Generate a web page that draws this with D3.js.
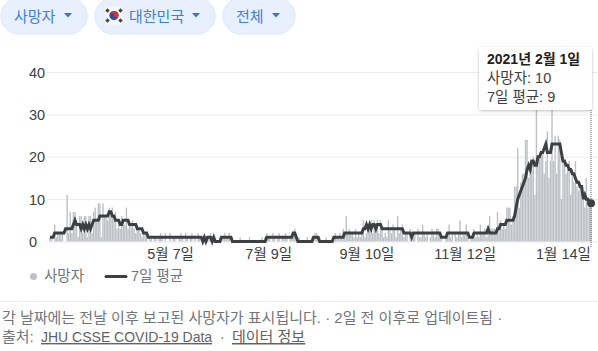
<!DOCTYPE html>
<html lang="ko">
<head>
<meta charset="utf-8">
<script src="https://cdn.jsdelivr.net/npm/d3@7"></script>
<style>
    body { margin: 0; background: #fff; overflow: hidden; }
    svg { display: block; }
    text { font-family: "Liberation Sans", "Noto Sans CJK KR", sans-serif; }
</style>
</head>
<body>
<div id="chart"></div>
<script>
// Daily deaths, one array per month (2020-02-20 .. 2021-02-01)
const deathsFeb = [1,1,0,4,1,2,2,2,2,0];
const deathsMar = [0,11,2,7,2,7,7,5,1,6,6,2,6,6,1,6,6,2,7,8,5,9,9,1,9,6,6,5,8,6,8];
const deathsApr = [5,7,3,4,3,6,4,4,8,3,5,4,5,3,2,3,3,2,1,2,2,1,0,1,1,0,1,1,0,1];
const deathsMay = [2,1,0,2,0,0,2,0,1,1,0,0,1,2,1,0,2,1,0,1,2,0,1,0,2,1,0,1,1,0,1];
const deathsJun = [1,2,0,1,0,0,0,1,0,1,2,1,1,2,0,1,0,0,0,0,1,0,0,0,0,0,1,0,0,0];
const deathsJul = [0,0,0,0,1,0,1,2,1,1,0,2,1,0,1,2,0,1,1,2,1,0,1,1,2,3,1,0,1,0,0];
const deathsAug = [0,0,1,0,0,0,1,2,2,1,0,0,0,0,1,0,0,0,0,1,2,1,1,2,1,3,2,6,2,3,2];
const deathsSep = [2,1,3,1,2,1,2,5,1,2,3,5,5,2,5,4,5,2,5,3,1,2,1,5,3,2,4,3,1,6];
const deathsOct = [2,3,4,1,2,2,0,3,2,1,2,0,3,1,1,4,2,1,2,0,1,3,2,1,3,3,1,1,0,0,1];
const deathsNov = [2,4,1,2,0,2,1,2,5,1,2,2,4,1,0,1,2,3,1,2,1,4,2,2,3,1,3,6,3,3];
const deathsDec = [3,2,7,3,5,3,4,3,8,8,8,4,6,13,13,22,8,14,16,16,24,24,15,17,17,20,11,40,20,20,20];
const deathsJan = [21,16,19,26,15,19,40,19,25,16,25,24,10,20,19,16,17,19,11,17,14,19,13,12,14,10,11,8,15,8,9];
const deathsLast = [10];

// 7-day average, same months
const avgFeb = [1,1,1,2,2,2,2,2,2,2];
const avgMar = [3,3,3,3,3,4,5,4,4,4,3,4,3,4,3,4,3,4,5,5,5,5,6,6,6,6,6,6,7,7,6];
const avgApr = [6,5,5,5,4,4,5,5,5,5,4,4,4,4,4,3,3,3,3,2,2,2,1,1,1,1,1,1,1,1];
const avgMay = [1,1,1,1,1,1,1,1,1,1,1,1,1,1,1,1,1,1,1,1,1,1,1,1,1,1,1,0,1,0,1];
const avgJun = [1,1,0,1,0,0,0,0,1,1,1,1,1,1,1,0,0,0,0,0,0,0,0,0,0,0,0,0,0,0];
const avgJul = [0,0,0,0,0,0,0,1,1,1,1,1,1,1,1,1,1,1,1,1,1,1,1,1,2,2,1,0,0,0,0];
const avgAug = [0,0,0,0,0,0,1,1,1,1,0,0,0,0,0,0,0,0,0,1,1,1,1,1,1,1,2,2,2,2,2];
const avgSep = [2,2,2,2,2,2,2,3,3,4,3,4,3,4,4,3,4,4,4,3,3,3,3,3,3,3,3,3,3,3];
const avgOct = [3,3,3,2,2,2,2,2,1,2,2,2,2,2,2,2,2,2,2,2,2,2,2,2,2,2,2,1,1,1,1];
const avgNov = [2,2,2,2,2,2,2,2,2,2,2,2,2,2,1,1,1,2,2,2,2,2,2,2,2,2,3,2,2,2];
const avgDec = [2,2,3,3,4,4,4,4,5,5,5,5,5,6,8,10,11,12,13,14,15,17,18,17,19,19,18,18,20,20,21];
const avgJan = [21,22,23,21,21,21,23,23,23,23,23,23,21,19,19,18,18,17,17,16,16,15,14,14,13,13,10,11,10,10,9];
const avgLast = [9];

const deaths = [].concat(deathsFeb, deathsMar, deathsApr, deathsMay, deathsJun, deathsJul,
    deathsAug, deathsSep, deathsOct, deathsNov, deathsDec, deathsJan, deathsLast);
const averages = [].concat(avgFeb, avgMar, avgApr, avgMay, avgJun, avgJul,
    avgAug, avgSep, avgOct, avgNov, avgDec, avgJan, avgLast);

const yTicks = [0, 10, 20, 30, 40];
const xTickDates = ["2020-05-07", "2020-07-09", "2020-09-10", "2020-11-12", "2021-01-14"];
const xTickLabels = ["5월 7일", "7월 9일", "9월 10일", "11월 12일", "1월 14일"];
const pillLabels = ["사망자", "대한민국", "전체"];

const startDate = new Date(Date.UTC(2020, 1, 20));
const endDate = new Date(Date.UTC(2021, 1, 1));
const days = d3.utcDay.range(startDate, d3.utcDay.offset(endDate, 1));
const rows = days.map((d, i) => ({ date: d, deaths: deaths[i], avg: averages[i] }));

const svg = d3.select("#chart").append("svg").attr("width", 598).attr("height", 351);

const defs = svg.append("defs");
const shadow = defs.append("filter").attr("id", "tipShadow")
    .attr("x", "-10%").attr("y", "-10%").attr("width", "120%").attr("height", "125%");
shadow.append("feDropShadow").attr("dx", 0).attr("dy", 1).attr("stdDeviation", 1.5)
    .attr("flood-color", "#000").attr("flood-opacity", 0.25);

// Scales
const xScale = d3.scaleUtc().domain([startDate, endDate]).range([50, 591]);
const yScale = d3.scaleLinear().domain([0, 40]).range([241.5, 72]);

// Filter pills
const pills = [
    { x: 1, w: 86, textX: 14, arrowX: 68 },
    { x: 95, w: 120, textX: 129, arrowX: 196 },
    { x: 223, w: 72, textX: 236, arrowX: 276 }
];
pills.forEach((p, i) => {
    svg.append("rect").attr("x", p.x).attr("y", -2).attr("width", p.w).attr("height", 36)
        .attr("rx", 18).attr("fill", "#e8f0fe").attr("stroke", "#dbe6f8");
    svg.append("text").attr("x", p.textX).attr("y", 21.5).attr("font-size", 15)
        .attr("fill", "#3f7fdc").text(pillLabels[i]);
    svg.append("path").attr("d", `M${p.arrowX - 4},13 h8 l-4,4.5 z`).attr("fill", "#2f78dc");
});

// Flag on the second pill
const flag = svg.append("g").attr("transform", "translate(114,15.5)");
flag.append("rect").attr("x", -9).attr("y", -9).attr("width", 18).attr("height", 18).attr("rx", 2).attr("fill", "#f6f6f6");
flag.append("circle").attr("r", 4.6).attr("fill", "#2a4f9c");
flag.append("path").attr("d", "M-4.6,0 A4.6,4.6 0 0 1 4.6,0 A2.3,2.3 0 0 1 0,0 A2.3,2.3 0 0 0 -4.6,0 Z").attr("fill", "#d0343e");
[[-6.5, -5], [6.5, -5], [-6.5, 5], [6.5, 5]].forEach(c => {
    flag.append("rect").attr("x", c[0] - 1.6).attr("y", c[1] - 1.6).attr("width", 3.2).attr("height", 3.2)
        .attr("transform", `rotate(${c[0] * c[1] > 0 ? -45 : 45} ${c[0]} ${c[1]})`).attr("fill", "#444");
});

// Gridlines and y labels
const yAxis = svg.append("g")
    .call(d3.axisLeft(yScale).tickValues(yTicks).tickSize(0));
yAxis.select(".domain").remove();
yAxis.selectAll(".tick").append("line")
    .attr("x1", 47).attr("x2", 598).attr("stroke", "#ebebeb");
yAxis.selectAll(".tick text")
    .attr("x", 29).attr("dy", "0.36em").attr("text-anchor", "start")
    .attr("font-size", 14.5).attr("font-family", null).attr("fill", "#3c4043");

// Daily bars
svg.append("g").selectAll("rect").data(rows).join("rect")
    .attr("x", d => xScale(d.date) - 0.7)
    .attr("width", 1.4)
    .attr("y", d => yScale(d.deaths))
    .attr("height", d => yScale(0) - yScale(d.deaths))
    .attr("fill", "#bdc1c6");

// X labels
const xAxis = svg.append("g").attr("transform", "translate(0,241.5)")
    .call(d3.axisBottom(xScale)
        .tickValues(xTickDates.map(d => new Date(d + "T00:00:00Z")))
        .tickFormat((d, i) => xTickLabels[i])
        .tickSize(0));
xAxis.select(".domain").remove();
xAxis.selectAll("text").attr("y", 7).attr("dy", "0.71em")
    .attr("font-size", 14.5).attr("font-family", null).attr("fill", "#3c4043");

// Hover line
svg.append("line").attr("x1", xScale(endDate)).attr("x2", xScale(endDate))
    .attr("y1", 110).attr("y2", 247)
    .attr("stroke", "#5f6368").attr("stroke-dasharray", "1 1");

// 7-day average
const line = d3.line().x(d => xScale(d.date)).y(d => yScale(d.avg));
svg.append("path").datum(rows)
    .attr("fill", "none").attr("stroke", "#3c4043").attr("stroke-width", 3)
    .attr("stroke-linejoin", "miter").attr("d", line);
svg.append("circle").attr("cx", xScale(endDate)).attr("cy", yScale(averages[averages.length - 1]))
    .attr("r", 4).attr("fill", "#3c4043");

// Tooltip
svg.append("rect").attr("x", 479).attr("y", 47).attr("width", 113).attr("height", 63).attr("rx", 3)
    .attr("fill", "#fff").attr("filter", "url(#tipShadow)");
svg.append("text").attr("x", 487).attr("y", 63.5).attr("font-size", 14).attr("font-weight", "bold")
    .attr("fill", "#202124").text("2021년 2월 1일");
svg.append("text").attr("x", 487).attr("y", 82.5).attr("font-size", 14.5)
    .attr("fill", "#3c4043").text("사망자: 10");
svg.append("text").attr("x", 487).attr("y", 102).attr("font-size", 14.5)
    .attr("fill", "#3c4043").text("7일 평균: 9");

// Legend
svg.append("circle").attr("cx", 33.5).attr("cy", 276.5).attr("r", 3.5).attr("fill", "#bdc1c6");
svg.append("text").attr("x", 44).attr("y", 281).attr("font-size", 14.5).attr("fill", "#70757a").text("사망자");
svg.append("line").attr("x1", 106).attr("x2", 126).attr("y1", 276.5).attr("y2", 276.5)
    .attr("stroke", "#3c4043").attr("stroke-width", 3).attr("stroke-linecap", "round");
svg.append("text").attr("x", 131).attr("y", 281).attr("font-size", 14.5).attr("fill", "#70757a").text("7일 평균");

// Footer
svg.append("line").attr("x1", 0).attr("x2", 598).attr("y1", 301.5).attr("y2", 301.5).attr("stroke", "#e8eaed");
svg.append("text").attr("x", 2).attr("y", 323).attr("font-size", 15).attr("fill", "#70757a")
    .text("각 날짜에는 전날 이후 보고된 사망자가 표시됩니다. · 2일 전 이후로 업데이트됨  ·");
svg.append("text").attr("x", 2).attr("y", 342).attr("font-size", 15).attr("fill", "#70757a").text("출처:");
svg.append("text").attr("x", 41).attr("y", 342).attr("font-size", 14).attr("fill", "#5f6368")
    .attr("text-decoration", "underline").text("JHU CSSE COVID-19 Data");
svg.append("text").attr("x", 220).attr("y", 342).attr("font-size", 14).attr("fill", "#70757a").text("·");
svg.append("text").attr("x", 232).attr("y", 342).attr("font-size", 15).attr("fill", "#5f6368")
    .attr("text-decoration", "underline").text("데이터 정보");
</script>
</body>
</html>
